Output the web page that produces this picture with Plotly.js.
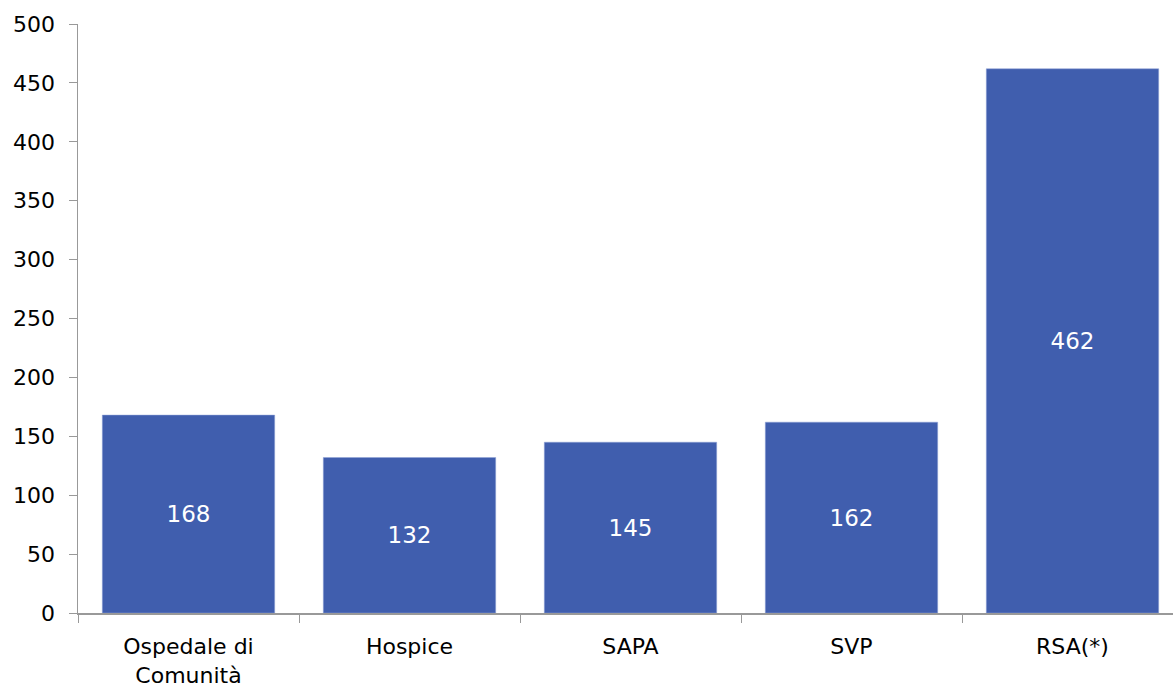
<!DOCTYPE html>
<html>
<head>
<meta charset="utf-8">
<script src="https://cdn.plot.ly/plotly-3.0.1.min.js"></script>
<style>html,body{margin:0;padding:0;background:#fff;}#chart{width:1173px;height:688px;}</style>
</head>
<body>
<div id="chart"></div>
<script>
const categories = ["Ospedale di<br>Comunità", "Hospice", "SAPA", "SVP", "RSA(*)"];
const values = [168, 132, 145, 162, 462];
const yTicks = [0, 50, 100, 150, 200, 250, 300, 350, 400, 450, 500];

const fontFam = "DejaVu Sans, Verdana, sans-serif";
const trace = {
  type: 'bar',
  x: categories,
  y: values,
  text: values.map(String),
  textposition: 'inside',
  insidetextanchor: 'middle',
  textangle: 0,
  textfont: {color: '#ffffff', size: 23, family: fontFam},
  marker: {color: '#405EAE', line: {color: '#8FA3D6', width: 0.5}},
  width: 0.78,
  hoverinfo: 'none'
};
const layout = {
  width: 1173, height: 688,
  margin: {l: 78, r: 0, t: 24, b: 75},
  paper_bgcolor: '#ffffff', plot_bgcolor: '#ffffff',
  showlegend: false,
  font: {family: fontFam, size: 22, color: '#000000'},
  xaxis: {
    type: 'category',
    range: [-0.5, -0.5 + 1095/221],
    showline: true, linecolor: '#999999', linewidth: 1.5,
    ticks: 'outside', tickson: 'boundaries', ticklen: 8, tickcolor: '#999999',
    ticklabelstandoff: 13,
    showgrid: false, zeroline: false,
    tickfont: {size: 22, family: fontFam, color: '#000'}
  },
  yaxis: {
    range: [0, 500],
    tickvals: yTicks,
    ticktext: yTicks.map(String),
    showline: true, linecolor: '#999999', linewidth: 1.5,
    ticks: 'outside', ticklen: 8, tickcolor: '#999999',
    ticklabelstandoff: 9,
    showgrid: false, zeroline: false,
    tickfont: {size: 22, family: fontFam, color: '#000'}
  }
};
Plotly.newPlot('chart', [trace], layout, {staticPlot: true});
</script>
</body>
</html>
